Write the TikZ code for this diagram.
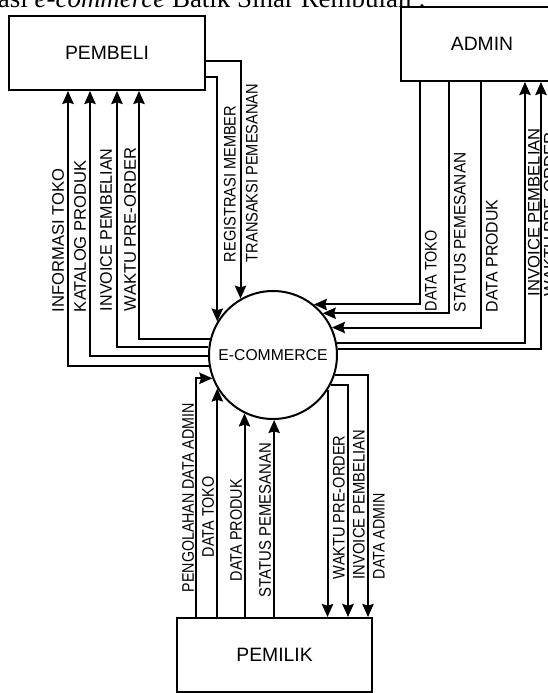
\documentclass[tikz,border=0pt]{standalone}
\usepackage{fontspec}
\setmainfont{Liberation Sans}
\newfontfamily\headfont{Liberation Serif}
\usetikzlibrary{arrows.meta,shapes.geometric}

\begin{document}
\begin{tikzpicture}[
  x=0.3mm,y=-0.3mm,
  line width=0.6mm,
  ent/.style={draw,minimum height=22.2mm,font=\fontsize{16.5}{19}\selectfont},
  proc/.style={draw,circle,minimum size=38.4mm,inner sep=0pt,font=\fontsize{13.4}{16}\selectfont},
  lbl/.style={rotate=90,xscale=#1,inner sep=0pt,font=\fontsize{14.3}{16}\selectfont},
  lbl/.default=0.87,
  lblL/.style={lbl=#1,anchor=south west},
  lblL/.default=0.87,
  lblR/.style={lbl=#1,anchor=north west},
  lblR/.default=0.87,
  >={Stealth[length=3.9mm,width=3.4mm,inset=0.5mm]}
]
  \useasboundingbox (0,0) rectangle (548,693);
  \node[anchor=base west,inner sep=0pt,font=\headfont\fontsize{23}{27}\selectfont] (judul) at (-3,7)
    {asi \textit{e-commerce} Batik Sinar Rembulan :};

  \node[proc] (ecom) at (273,355) {E-COMMERCE};
  \node[ent,minimum width=58.8mm] (pembeli) at (107,53) {PEMBELI};
  \node[ent,minimum width=48.6mm] (admin) at (482,44) {ADMIN};
  \node[ent,minimum width=58.5mm] (pemilik) at (274.5,655) {PEMILIK};

  % e-commerce -> pembeli
  \draw[->] (ecom.190) -| (68,0 |- pembeli.south);
  \draw[->] (ecom.181) -| (90,0 |- pembeli.south);
  \draw[->] (ecom.173) -| (117,0 |- pembeli.south);
  \draw[->] (ecom.166) -| (139,0 |- pembeli.south);
  % pembeli -> e-commerce
  \draw[->] (pembeli.east |- 0,77) -| (ecom.149);
  \draw[->] (pembeli.east |- 0,61) -| (ecom.120);

  % admin -> e-commerce
  \draw[->] (420,0 |- admin.south) |- (ecom.51);
  \draw[->] (449,0 |- admin.south) |- (ecom.40);
  \draw[->] (481,0 |- admin.south) |- (ecom.25);
  % e-commerce -> admin
  \draw[->] (ecom.11) -| (525,0 |- admin.south);
  \draw[->] (ecom.5) -| (541,0 |- admin.south);

  % pemilik -> e-commerce
  \draw[->] (196,0 |- pemilik.north) |- (ecom.201);
  \draw[->] (ecom.211 |- pemilik.north) -- (ecom.211);
  \draw[->] (ecom.244 |- pemilik.north) -- (ecom.244);
  \draw[->] (ecom.271 |- pemilik.north) -- (ecom.271);
  % e-commerce -> pemilik
  \draw[->] (ecom.327) -- (ecom.327 |- pemilik.north);
  \draw[->] (ecom.333) -| (348,0 |- pemilik.north);
  \draw[->] (ecom.342) -| (368,0 |- pemilik.north);

  % labels
  \node[lblL=0.99] (infoToko)   at (65,313)  {INFORMASI TOKO};
  \node[lblL=0.99] (katalog)    at (87,313)  {KATALOG PRODUK};
  \node[lblL=0.96] (invPembeli) at (113,312) {INVOICE PEMBELIAN};
  \node[lblL=0.99] (poPembeli)  at (137,312) {WAKTU PRE-ORDER};
  \node[lblR=0.87] (registrasi) at (223,263) {REGISTRASI MEMBER};
  \node[lblR=0.87] (transaksi)  at (245,263) {TRANSAKSI PEMESANAN};

  \node[lblR=0.86] (tokoAdmin)   at (424,312) {DATA TOKO};
  \node[lblR=0.92] (statusAdmin) at (453,313) {STATUS PEMESANAN};
  \node[lblR=0.95] (produkAdmin) at (485,313) {DATA PRODUK};
  \node[lblR=0.99] (invAdmin)    at (527,297) {INVOICE PEMBELIAN};
  \node[lblR=0.99] (poAdmin)     at (543,297) {WAKTU PRE-ORDER};

  \node[lblL=0.85] (olahAdmin)     at (195,593) {PENGOLAHAN DATA ADMIN};
  \node[lblL=0.86] (tokoPemilik)   at (215,558) {DATA TOKO};
  \node[lblL=0.86] (produkPemilik) at (243,582) {DATA PRODUK};
  \node[lblL=0.89] (statusPemilik) at (272,598) {STATUS PEMESANAN};
  \node[lblR=0.87] (poPemilik)     at (332,580) {WAKTU PRE-ORDER};
  \node[lblR=0.88] (invPemilik)    at (352,580) {INVOICE PEMBELIAN};
  \node[lblR=0.85] (dataAdmin)     at (372,580) {DATA ADMIN};
\end{tikzpicture}
\end{document}
